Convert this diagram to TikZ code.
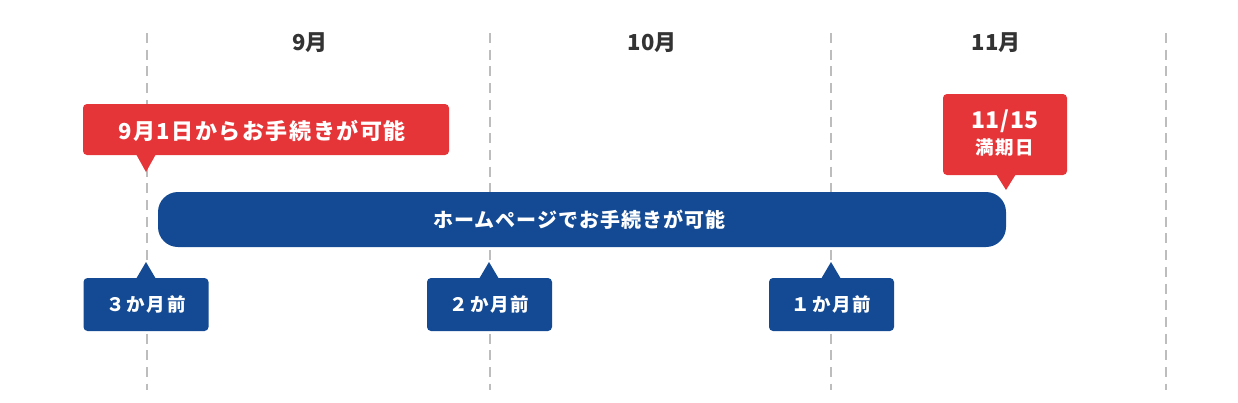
\documentclass[tikz,border=0pt]{standalone}
\usepackage{fontspec}
\newfontfamily\jp{Noto Sans CJK JP}
\definecolor{cred}{HTML}{E63538}
\definecolor{cblue}{HTML}{134A93}
\definecolor{cdash}{HTML}{BDBDBD}
\definecolor{ctext}{HTML}{333333}
\tikzset{
  guide/.style={draw=cdash, line width=2pt, dash pattern=on 10pt off 6.7pt},
  month/.style={text=ctext, font=\jp\bfseries\fontsize{22}{26}\selectfont, inner sep=0pt},
  redbox/.style={fill=cred, rounded corners=4pt, text=white, inner sep=0pt},
  bluebox/.style={fill=cblue, rounded corners=4pt, text=white, inner sep=0pt,
    minimum width=125pt, minimum height=53pt,
    font=\jp\bfseries\fontsize{18.5}{22}\selectfont\addfontfeatures{LetterSpace=10}},
  barbox/.style={fill=cblue, rounded corners=20pt, text=white, inner sep=0pt,
    minimum width=848pt, minimum height=55pt,
    font=\jp\bfseries\fontsize{20}{24}\selectfont\addfontfeatures{LetterSpace=5}},
}
\begin{document}
\begin{tikzpicture}[x=1pt,y=-1pt]
\useasboundingbox (0,0) rectangle (1238,402);
% guide lines
\foreach \gx/\gn in {147/a,490/b,831/c,1166/d}{
  \coordinate (top\gn) at (\gx,33);
  \coordinate (bot\gn) at (\gx,390);
  \draw[guide] (top\gn) -- (bot\gn);
}
% months
\node[month] (m9) at (310,43) {9月};
\node[month] (m10) at (652,43) {10月};
\node[month] (m11) at (996,43) {11月};
% red callout left
\node[redbox, minimum width=366pt, minimum height=51pt] (c1) at (266,129.5) {};
\node[text=white, inner sep=0pt,
  font=\jp\bfseries\fontsize{22}{26}\selectfont\addfontfeatures{LetterSpace=7}]
  (c1t) at (262,131) {9月1日からお手続きが可能};
\coordinate (t1) at (146,172);
\fill[cred] (t1) -- (136,154) -- (156,154) -- cycle;
% red callout right
\node[redbox, minimum width=124pt, minimum height=81pt] (c2) at (1005,134.5) {};
\node[text=white, inner sep=0pt, font=\jp\bfseries\fontsize{23}{26}\selectfont\addfontfeatures{LetterSpace=3}] (d1) at (1005,121) {11/15};
\node[text=white, inner sep=0pt, font=\jp\bfseries\fontsize{18.5}{22}\selectfont\addfontfeatures{LetterSpace=8}] (d2) at (1005,147.5) {満期日};
\coordinate (t2) at (1006,190);
\fill[cred] (t2) -- (996,174) -- (1016,174) -- cycle;
% bar
\node[barbox] (bar) at (582,219.5) {};
\node[text=white, inner sep=0pt,
  font=\jp\bfseries\fontsize{20}{24}\selectfont\addfontfeatures{LetterSpace=5}]
  (bart) at (579,219.5) {ホームページでお手続きが可能};
% blue callouts
\node[bluebox] (b3) at (146,304.5) {３か月前};
\coordinate (u3) at (146,262);
\fill[cblue] (u3) -- (136,279) -- (156,279) -- cycle;
\node[bluebox] (b2) at (489.5,304.5) {２か月前};
\coordinate (u2) at (489,262);
\fill[cblue] (u2) -- (479,279) -- (499,279) -- cycle;
\node[bluebox] (b1) at (831.5,304.5) {１か月前};
\coordinate (u1) at (831,262);
\fill[cblue] (u1) -- (821,279) -- (841,279) -- cycle;
\end{tikzpicture}
\end{document}
